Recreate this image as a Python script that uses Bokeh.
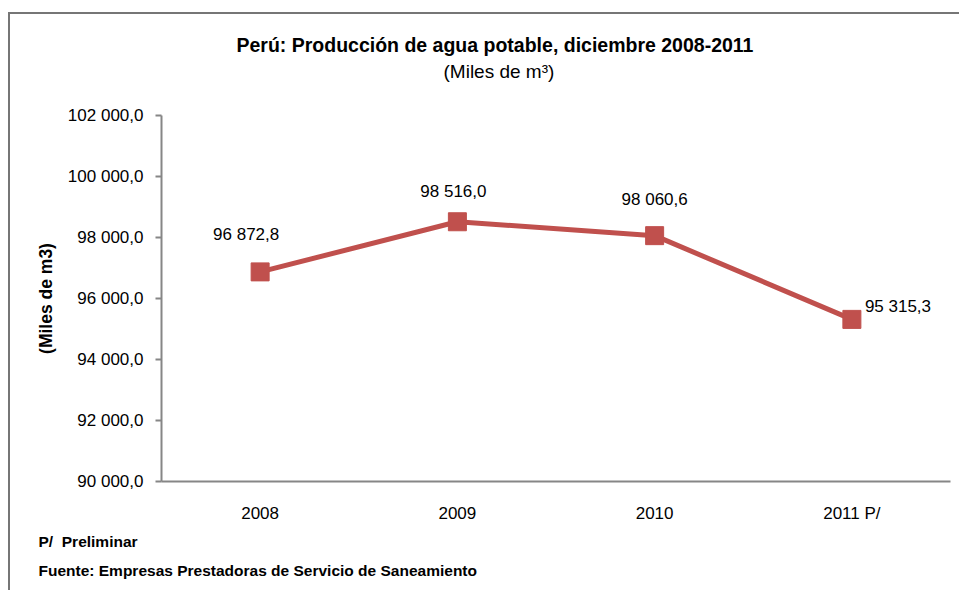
from bokeh.plotting import figure
from bokeh.models import FactorRange, Range1d, FixedTicker, Label, ColumnDataSource, Title
from bokeh.embed import file_html
from bokeh.resources import INLINE

# ---- data ----
years = ["2008", "2009", "2010", "2011 P/"]
production = [96872.8, 98516.0, 98060.6, 95315.3]
y_ticks = [90000, 92000, 94000, 96000, 98000, 100000, 102000]
title_text = "Perú: Producción de agua potable, diciembre 2008-2011"
subtitle_text = "(Miles de m³)"
y_label = "(Miles de m3)"
note_text = "P/\u00a0\u00a0Preliminar"
source_text = "Fuente: Empresas Prestadoras de Servicio de Saneamiento"

FONT = "Liberation Sans"
RED = "#C0504D"
GRAY = "#868686"


def fmt(v):
    s = f"{v:,.1f}"
    return s.replace(",", " ").replace(".", ",")


p = figure(
    width=951, height=578,
    x_range=FactorRange(factors=years, range_padding=0),
    y_range=Range1d(90000, 102000),
    output_backend="svg", toolbar_location=None, title=None,
    min_border_left=151, min_border_right=11, min_border_top=101, min_border_bottom=111,
)
p.styles = {"border-top": "2px solid #767676", "border-left": "2px solid #767676",
            "margin-top": "12px", "margin-left": "8px"}
p.outline_line_color = None
p.xgrid.grid_line_color = None
p.ygrid.grid_line_color = None
p.background_fill_color = "white"
p.border_fill_color = "white"

# axes
p.yaxis.ticker = FixedTicker(ticks=y_ticks)
p.yaxis.major_label_overrides = {t: fmt(t) for t in y_ticks}
p.yaxis.axis_line_color = GRAY
p.yaxis.axis_line_width = 2
p.yaxis.major_tick_line_color = GRAY
p.yaxis.major_tick_line_width = 2
p.yaxis.major_tick_out = 6
p.yaxis.major_tick_in = 0
p.yaxis.minor_tick_line_color = None
p.yaxis.major_label_text_font = FONT
p.yaxis.major_label_text_font_size = "17px"
p.yaxis.major_label_text_color = "black"
p.yaxis.major_label_standoff = 12
p.yaxis.axis_label = y_label
p.yaxis.axis_label_text_font = FONT
p.yaxis.axis_label_text_font_size = "17.5px"
p.yaxis.axis_label_text_font_style = "bold"
p.yaxis.axis_label_text_color = "black"
p.yaxis.axis_label_standoff = 9

p.xaxis.axis_line_color = GRAY
p.xaxis.axis_line_width = 2
p.xaxis.major_tick_line_color = None
p.xaxis.minor_tick_line_color = None
p.xaxis.major_label_text_font = FONT
p.xaxis.major_label_text_font_size = "17px"
p.xaxis.major_label_text_color = "black"
p.xaxis.major_label_standoff = 16

src = ColumnDataSource(dict(x=years, y=production))
p.line("x", "y", source=src, line_color=RED, line_width=5)
p.scatter("x", "y", source=src, marker="square", size=18, fill_color=RED, line_color=RED)

# data labels (offsets in screen px are styling)
offsets = [(-14, 37), (-4, 30), (0, 36), (13, 13)]
aligns = ["center", "center", "center", "left"]
for i, (yv, (dx, dy), al) in enumerate(zip(production, offsets, aligns)):
    p.add_layout(Label(x=i + 0.5, y=yv, x_offset=dx, y_offset=dy, text=fmt(yv),
                       text_font=FONT, text_font_size="17px", text_align=al,
                       text_baseline="middle", text_color="black"))

# titles (stacked outward from the frame); first one is an empty spacer
p.add_layout(Title(text=" ", align="center", standoff=21,
                   text_font=FONT, text_font_size="10px"), "above")
p.add_layout(Title(text=subtitle_text, align="left", offset=282, standoff=0,
                   text_font=FONT, text_font_size="19px", text_font_style="normal",
                   text_color="black"), "above")
p.add_layout(Title(text=title_text, align="left", offset=75, standoff=6,
                   text_font=FONT, text_font_size="19.5px", text_font_style="bold",
                   text_color="black"), "above")
p.add_layout(Title(text=note_text, align="left", offset=-123, standoff=10,
                   text_font=FONT, text_font_size="15.5px", text_font_style="bold",
                   text_color="black"), "below")
p.add_layout(Title(text=source_text, align="left", offset=-123, standoff=11,
                   text_font=FONT, text_font_size="15.5px", text_font_style="bold",
                   text_color="black"), "below")

open("out.html", "w").write(file_html(p, INLINE))
